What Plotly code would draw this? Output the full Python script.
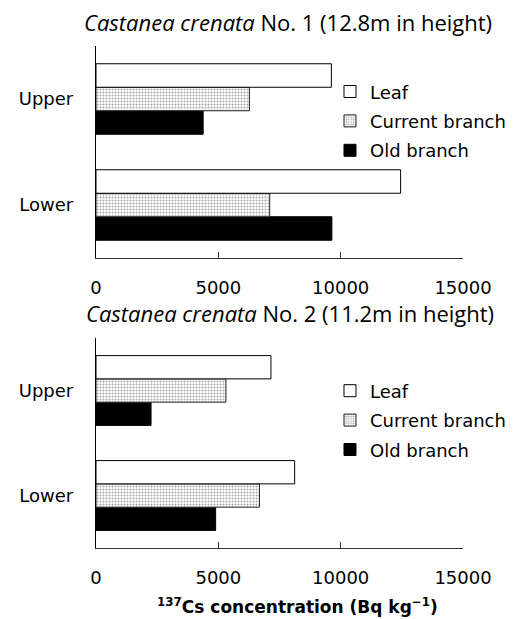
import plotly.graph_objects as go

categories = ["Lower", "Upper"]
series_names = ["Leaf", "Current branch", "Old branch"]

# Castanea crenata No. 1
tree1_leaf = [12450, 9620]
tree1_current = [7100, 6270]
tree1_old = [9640, 4380]

# Castanea crenata No. 2
tree2_leaf = [8120, 7150]
tree2_current = [6680, 5310]
tree2_old = [4890, 2250]

x_ticks = [0, 5000, 10000, 15000]

GOTHIC = "'DejaVu Sans', Verdana, sans-serif"
tick_font = dict(family=GOTHIC, size=18, color="black")
title_font = dict(family="'Open Sans', 'Noto Sans', sans-serif", size=22, color="black")


def add_tree(fig, leaf, current, old, xa, ya, legend):
    # Plotly draws the first trace of a group at the bottom, so add Old first
    fig.add_trace(go.Bar(
        y=categories, x=old, name=series_names[2], orientation="h",
        marker=dict(color="black", line=dict(color="black", width=1)),
        xaxis=xa, yaxis=ya, legend=legend, legendrank=3, legendgroup=legend + "c",
    ))
    fig.add_trace(go.Bar(
        y=categories, x=current, name=series_names[1], orientation="h",
        marker=dict(color="white", line=dict(color="#222", width=1),
                    pattern=dict(shape=".", fgcolor="#555", bgcolor="white",
                                 size=3, solidity=0.4)),
        xaxis=xa, yaxis=ya, legend=legend, legendrank=2, legendgroup=legend + "b",
    ))
    fig.add_trace(go.Bar(
        y=categories, x=leaf, name=series_names[0], orientation="h",
        marker=dict(color="white", line=dict(color="black", width=1)),
        xaxis=xa, yaxis=ya, legend=legend, legendrank=1, legendgroup=legend + "a",
    ))


fig = go.Figure()
add_tree(fig, tree1_leaf, tree1_current, tree1_old, "x", "y", "legend")
add_tree(fig, tree2_leaf, tree2_current, tree2_old, "x2", "y2", "legend2")

xaxis_common = dict(
    range=[0, 15000], tickvals=x_ticks, ticktext=[str(v) for v in x_ticks],
    showline=True, linecolor="#333", linewidth=1, ticks="inside", ticklen=6,
    tickcolor="#333", showgrid=False, zeroline=False, tickfont=tick_font,
    ticklabelstandoff=13, automargin=False,
)
yaxis_common = dict(
    categoryorder="array", categoryarray=categories, range=[-0.5, 1.5],
    showline=True, linecolor="black", linewidth=1.3, ticks="", showgrid=False,
    tickfont=tick_font, ticklabelstandoff=18, automargin=False,
)

legend_common = dict(
    font=dict(family=GOTHIC, size=18, color="black"),
    bgcolor="rgba(0,0,0,0)", traceorder="grouped", tracegroupgap=3,
    xanchor="left", yanchor="middle", itemclick=False,
)

fig.update_layout(
    width=506, height=611,
    margin=dict(l=88, r=51, t=38, b=71, autoexpand=False),
    paper_bgcolor="white", plot_bgcolor="white",
    barmode="group", bargap=0.335, bargroupgap=0,
    xaxis=dict(xaxis_common, anchor="y", domain=[0, 1]),
    yaxis=dict(yaxis_common, anchor="x", domain=[0.5777, 1]),
    xaxis2=dict(xaxis_common, anchor="y2", domain=[0, 1]),
    yaxis2=dict(yaxis_common, anchor="x2", domain=[0, 0.4183]),
    legend=dict(legend_common, x=0.6376, y=0.85),
    legend2=dict(legend_common, x=0.6376, y=0.254),
    showlegend=True,
    annotations=[
        dict(text="<i>Castanea crenata</i> No. 1 (12.8m in height)",
             xref="paper", yref="paper", x=0.523, y=1.0, yshift=24.5,
             xanchor="center", yanchor="middle", showarrow=False, font=title_font),
        dict(text="<i>Castanea crenata</i> No. 2 (11.2m in height)",
             xref="paper", yref="paper", x=0.528, y=0.4183, yshift=25,
             xanchor="center", yanchor="middle", showarrow=False, font=title_font),
        dict(text="<b><sup>137</sup>Cs concentration (Bq kg<sup>−1</sup>)</b>",
             xref="paper", yref="paper", x=0.548, y=0, yshift=-58,
             xanchor="center", yanchor="middle", showarrow=False,
             font=dict(family=GOTHIC, size=17, color="black")),
    ],
)

fig.write_html("out.html")
